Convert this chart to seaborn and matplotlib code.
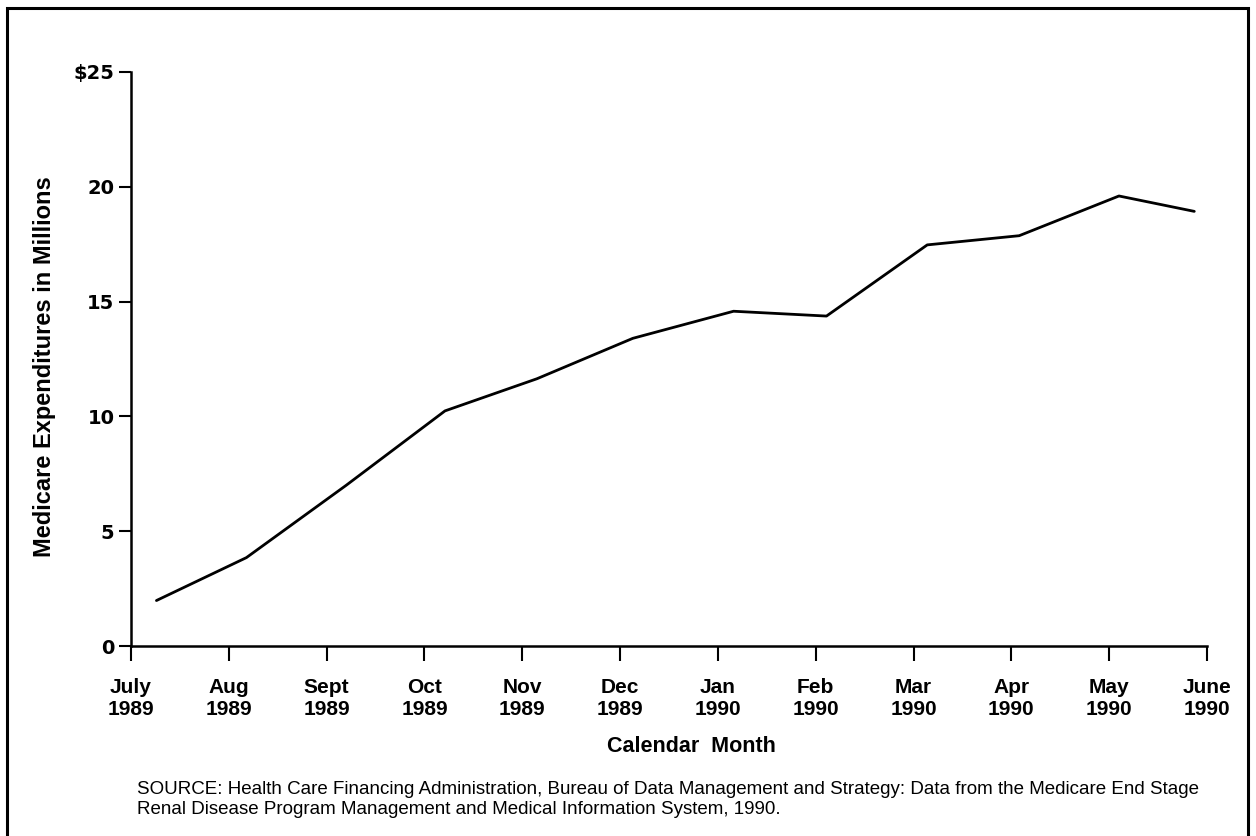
import matplotlib
matplotlib.use("Agg")
import matplotlib.pyplot as plt
import seaborn as sns
import pandas as pd
from matplotlib.patches import Rectangle

# ---- data ----
month_labels = ["July\n1989", "Aug\n1989", "Sept\n1989", "Oct\n1989", "Nov\n1989", "Dec\n1989",
                "Jan\n1990", "Feb\n1990", "Mar\n1990", "Apr\n1990", "May\n1990", "June\n1990"]
# fractional month position of each plotted point (0 = July 1989 tick)
point_month = [0.26, 1.18, 2.2, 3.21, 4.15, 5.13, 6.16, 7.11, 8.14, 9.08, 10.1, 10.87]
expenditure = [1.98, 3.85, 7.0, 10.24, 11.64, 13.4, 14.58, 14.37, 17.47, 17.87, 19.6, 18.93]
y_ticks = [0, 5, 10, 15, 20, 25]
y_tick_labels = ["0", "5", "10", "15", "20", "$25"]

df = pd.DataFrame({"month": point_month, "value": expenditure})

sns.set_theme(style="white")
plt.rcParams["font.family"] = ["Liberation Sans", "DejaVu Sans"]

W, H = 1256, 836
fig = plt.figure(figsize=(W / 100, H / 100), dpi=100)
ax = fig.add_axes([131 / W, 1 - 646 / H, (1207 - 131) / W, (646 - 72) / H])

sns.lineplot(data=df, x="month", y="value", ax=ax, color="black", linewidth=2.0)

ax.set_xlim(0, 11)
ax.set_ylim(0, 25)
ax.set_xticks(range(len(month_labels)))
ax.set_xticklabels(month_labels, fontfamily=["Liberation Sans Narrow", "Liberation Sans"],
                   fontweight="bold", fontsize=15, linespacing=1.2, color="black")
ax.set_yticks(y_ticks)
ax.set_yticklabels(y_tick_labels, fontfamily=["DejaVu Sans"], fontweight="bold", fontsize=14,
                   color="black")

for side in ["top", "right"]:
    ax.spines[side].set_visible(False)
for side in ["left", "bottom"]:
    ax.spines[side].set_color("black")
    ax.spines[side].set_linewidth(1.8)

ax.tick_params(axis="x", direction="out", length=11, width=1.5, color="black", pad=12, bottom=True)
ax.tick_params(axis="y", direction="out", length=9, width=1.5, color="black", pad=3, left=True)

ax.set_xlabel("")
ax.set_ylabel("")

fig.text(45 / W, 1 - 367 / H, "Medicare Expenditures in Millions", rotation=90,
         ha="center", va="center", fontsize=17, fontweight="bold", color="black",
         fontfamily=["Liberation Sans", "DejaVu Sans"])
fig.text(691 / W, 1 - 747 / H, "Calendar  Month", ha="center", va="center",
         fontsize=15.5, fontweight="bold", color="black",
         fontfamily=["Liberation Sans", "DejaVu Sans"])
fig.text(137 / W, 1 - 781 / H,
         "SOURCE: Health Care Financing Administration, Bureau of Data Management and Strategy: Data from the Medicare End Stage\n"
         "Renal Disease Program Management and Medical Information System, 1990.",
         ha="left", va="top", fontsize=13.5, linespacing=1.25, color="black",
         fontfamily=["Liberation Sans", "DejaVu Sans"])

# page frame (open at bottom)
fig.add_artist(Rectangle((7 / W, -0.02), (1248 - 7) / W, 1.02 - 8 / H,
                         transform=fig.transFigure, fill=False, edgecolor="black", linewidth=2.2))

fig.savefig("out.png", dpi=100)
